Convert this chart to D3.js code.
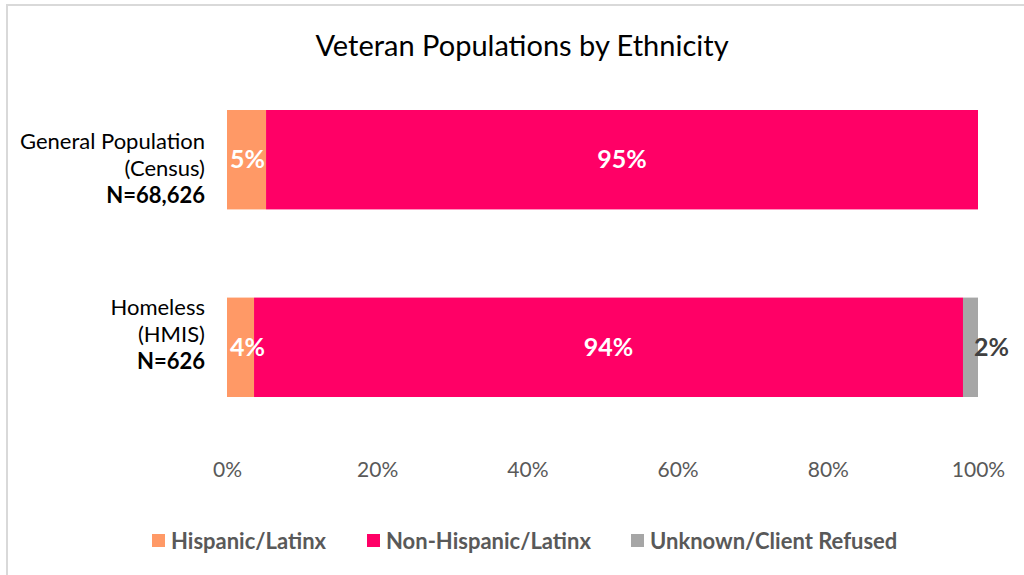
<!DOCTYPE html>
<html>
<head>
<meta charset="utf-8">
<script src="https://cdn.jsdelivr.net/npm/d3@7"></script>
<style>
  body { margin: 0; background: #fff; }
  svg { display: block; font-family: Lato, "Open Sans", sans-serif; }
</style>
</head>
<body>
<svg width="1024" height="575"></svg>
<script>
var categories = ["General Population (Census)", "Homeless (HMIS)"];
var catLines = [["General Population", "(Census)", "N=68,626"], ["Homeless", "(HMIS)", "N=626"]];
var seriesNames = ["Hispanic/Latinx", "Non-Hispanic/Latinx", "Unknown/Client Refused"];
var hispanic = [5.2, 3.6];
var nonHispanic = [94.8, 94.4];
var unknown = [0, 2.0];
var labelText = [["5%", "95%", ""], ["4%", "94%", "2%"]];
var ticks = [0, 20, 40, 60, 80, 100];
var colors = ["#ff9966", "#ff0066", "#a6a6a6"];

var svg = d3.select("svg"),
  margin = { top: 110, right: 46, bottom: 178, left: 227 },
  width = +svg.attr("width") - margin.left - margin.right,
  height = +svg.attr("height") - margin.top - margin.bottom;

// chart border
svg.append("path")
  .attr("d", "M7,575 V5 H1024")
  .attr("fill", "none")
  .attr("stroke", "#d9d9d9")
  .attr("stroke-width", 2);

svg.append("text")
  .attr("x", 522)
  .attr("y", 56)
  .attr("text-anchor", "middle")
  .style("font-size", "29px")
  .attr("fill", "#000")
  .text("Veteran Populations by Ethnicity");

var g = svg.append("g")
  .attr("transform", "translate(" + margin.left + "," + margin.top + ")");

var x = d3.scaleLinear().domain([0, 100]).range([0, width]);
var y = d3.scaleBand().domain(categories).range([0, 287]).paddingInner(0.47).paddingOuter(0);

var rows = categories.map(function(c, i) {
  var vals = [hispanic[i], nonHispanic[i], unknown[i]];
  var x0 = 0;
  return vals.map(function(v, j) {
    var d = { cat: c, row: i, series: j, x0: x0, x1: x0 + v, label: labelText[i][j] };
    x0 += v;
    return d;
  });
});
var segs = d3.merge(rows);

g.selectAll(".bar")
  .data(segs)
  .enter()
  .append("rect")
  .attr("class", "bar")
  .attr("x", function(d) { return x(d.x0); })
  .attr("y", function(d) { return y(d.cat); })
  .attr("width", function(d) { return x(d.x1) - x(d.x0); })
  .attr("height", y.bandwidth())
  .attr("fill", function(d) { return colors[d.series]; });

g.selectAll(".lbl")
  .data(segs.filter(function(d) { return d.label; }))
  .enter()
  .append("text")
  .attr("class", "lbl")
  .attr("y", function(d) { return y(d.cat) + y.bandwidth() / 2; })
  .attr("dy", "0.35em")
  .attr("text-anchor", "start")
  .attr("fill", function(d) { return d.series === 2 ? "#404040" : "#fff"; })
  .style("font-size", "25px")
  .style("font-weight", "bold")
  .text(function(d) { return d.label; })
  .attr("x", function(d) {
    var w = this.getComputedTextLength();
    if (d.series === 2) return x(d.x1) - 4;
    return Math.max(x((d.x0 + d.x1) / 2) - w / 2, 3);
  });

// category labels
var labelShift = [-18, -40];
var cat = svg.append("g").selectAll("text")
  .data(categories)
  .enter()
  .append("text")
  .attr("text-anchor", "end")
  .attr("x", 205)
  .attr("y", function(d, i) { return margin.top + y(d) + y.bandwidth() / 2 + labelShift[i]; })
  .style("font-size", "22px")
  .attr("fill", "#000");
cat.each(function(d, i) {
  var t = d3.select(this);
  catLines[i].forEach(function(line, k) {
    t.append("tspan")
      .attr("x", 205)
      .attr("dy", k === 0 ? "0.35em" : "27px")
      .style("font-weight", k === 2 ? "bold" : "normal")
      .text(line);
  });
});

// x axis
var axis = g.append("g")
  .attr("transform", "translate(0," + (462 - margin.top) + ")")
  .call(d3.axisBottom(x).tickValues(ticks).tickSize(0).tickPadding(0).tickFormat(function(d) { return d + "%"; }));
axis.select(".domain").remove();
axis.selectAll("text")
  .style("font-size", "21px")
  .style("font-family", "Lato, sans-serif")
  .attr("fill", "#595959");

// legend
var legendX = [152, 367, 631];
var lg = svg.append("g").selectAll("g")
  .data(seriesNames)
  .enter()
  .append("g")
  .attr("transform", function(d, i) { return "translate(" + legendX[i] + ",534)"; });
lg.append("rect")
  .attr("width", 13)
  .attr("height", 13)
  .attr("fill", function(d, i) { return colors[i]; });
lg.append("text")
  .attr("x", 19)
  .attr("y", 7)
  .attr("dy", "0.35em")
  .style("font-size", "22px")
  .style("font-weight", "bold")
  .attr("fill", "#595959")
  .text(function(d) { return d; });
</script>
</body>
</html>
